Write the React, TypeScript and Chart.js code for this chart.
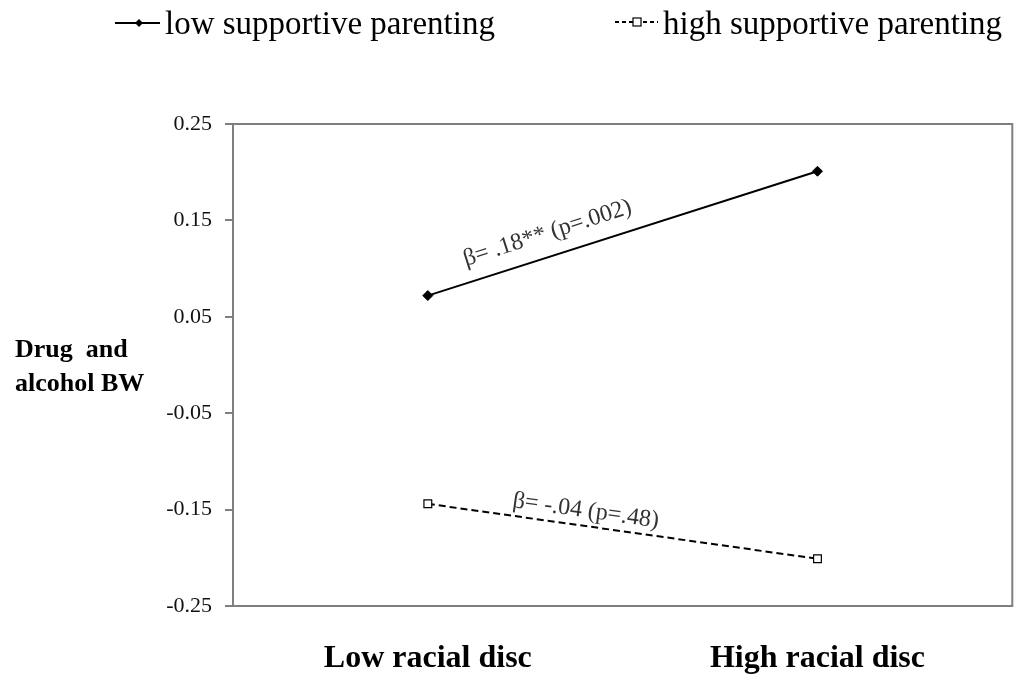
import React, { useEffect, useRef } from "react";
import { Chart, registerables } from "chart.js";

Chart.register(...registerables);

const categories = ["Low racial disc", "High racial disc"];
const lowSupportive = [0.072, 0.201];
const highSupportive = [-0.144, -0.201];
const yTicks = [-0.25, -0.15, -0.05, 0.05, 0.15, 0.25];
const legendLabels = ["low supportive parenting", "high supportive parenting"];
const yTitleLines = ["Drug  and", "alcohol BW"];
const annotations = ["\u03b2= .18** (p=.002)", "\u03b2= -.04 (p=.48)"];

const SERIF = "'Liberation Serif', 'Times New Roman', serif";
const AXIS_GRAY = "#7f7f7f";

const overlayPlugin = {
  id: "overlay",
  afterDraw(chart: any) {
    const ctx = chart.ctx;
    const a = chart.chartArea;
    ctx.save();
    // plot box
    ctx.strokeStyle = AXIS_GRAY;
    ctx.lineWidth = 2;
    ctx.strokeRect(a.left, a.top, a.right - a.left, a.bottom - a.top);

    // legend
    ctx.fillStyle = "#000";
    ctx.strokeStyle = "#000";
    ctx.font = `33px ${SERIF}`;
    ctx.textBaseline = "alphabetic";
    // item 1
    ctx.lineWidth = 2;
    ctx.setLineDash([]);
    ctx.beginPath();
    ctx.moveTo(115, 23);
    ctx.lineTo(160, 23);
    ctx.stroke();
    ctx.beginPath();
    ctx.moveTo(139, 19);
    ctx.lineTo(143, 23);
    ctx.lineTo(139, 27);
    ctx.lineTo(135, 23);
    ctx.closePath();
    ctx.fill();
    ctx.fillText(legendLabels[0], 165, 34);
    // item 2
    ctx.setLineDash([4, 3]);
    ctx.beginPath();
    ctx.moveTo(615, 22);
    ctx.lineTo(658, 22);
    ctx.stroke();
    ctx.setLineDash([]);
    ctx.fillStyle = "#fff";
    ctx.fillRect(633, 18, 8, 8);
    ctx.lineWidth = 1.2;
    ctx.strokeRect(633, 18, 8, 8);
    ctx.fillStyle = "#000";
    ctx.fillText(legendLabels[1], 663, 34);

    // y title
    ctx.font = `bold 26px ${SERIF}`;
    ctx.fillText(yTitleLines[0], 15, 357);
    ctx.fillText(yTitleLines[1], 15, 391);

    // annotations along lines
    const xs = chart.scales.x;
    const ys = chart.scales.y;
    const drawAnn = (text: string, vals: number[], t: number, off: number) => {
      const x0 = xs.getPixelForValue(0);
      const x1 = xs.getPixelForValue(1);
      const y0 = ys.getPixelForValue(vals[0]);
      const y1 = ys.getPixelForValue(vals[1]);
      const ang = Math.atan2(y1 - y0, x1 - x0);
      const cx = x0 + (x1 - x0) * t + Math.sin(ang) * off;
      const cy = y0 + (y1 - y0) * t - Math.cos(ang) * off;
      ctx.save();
      ctx.translate(cx, cy);
      ctx.rotate(ang);
      ctx.font = `24px ${SERIF}`;
      ctx.fillStyle = "#333";
      ctx.textAlign = "center";
      ctx.textBaseline = "middle";
      ctx.fillText(text, 0, 0);
      ctx.restore();
    };
    drawAnn(annotations[0], lowSupportive, 0.325, 23);
    drawAnn(annotations[1], highSupportive, 0.4, 15);
    ctx.restore();
  },
};

export default function App() {
  const ref = useRef<HTMLCanvasElement>(null);
  useEffect(() => {
    if (!ref.current) return;
    const chart = new Chart(ref.current, {
      type: "line",
      data: {
        labels: categories,
        datasets: [
          {
            label: legendLabels[0],
            data: lowSupportive,
            borderColor: "#000",
            backgroundColor: "#000",
            borderWidth: 2,
            pointStyle: "rectRot",
            pointRadius: 5,
            pointBorderWidth: 1,
            tension: 0,
          },
          {
            label: legendLabels[1],
            data: highSupportive,
            borderColor: "#000",
            backgroundColor: "#fff",
            borderWidth: 2,
            borderDash: [7, 4],
            pointStyle: "rect",
            pointRadius: 5.5,
            pointBorderWidth: 1.2,
            pointBackgroundColor: "#fff",
            pointBorderColor: "#000",
            tension: 0,
          },
        ],
      },
      options: {
        animation: false,
        responsive: false,
        layout: { padding: { left: 0, top: 124, right: 1, bottom: 0 } },
        plugins: {
          legend: { display: false },
          title: { display: false },
          tooltip: { enabled: false },
        },
        scales: {
          x: {
            type: "category",
            offset: true,
            grid: { display: false, drawTicks: false },
            border: { display: false },
            ticks: {
              color: "#000",
              font: { family: SERIF, size: 32, weight: "bold" },
              padding: 34,
              maxRotation: 0,
            },
            afterFit: (s: any) => {
              s.height = 71;
            },
          },
          y: {
            min: -0.25,
            max: 0.25,
            afterBuildTicks: (s: any) => {
              s.ticks = yTicks.map((v) => ({ value: v }));
            },
            grid: {
              drawOnChartArea: false,
              drawTicks: true,
              tickLength: 8,
              color: AXIS_GRAY,
              lineWidth: 2,
            },
            border: { display: true, color: AXIS_GRAY, width: 2 },
            ticks: {
              color: "#111",
              font: { family: SERIF, size: 22 },
              padding: 13,
              callback: (v: any) => Number(v).toFixed(2),
            },
            afterFit: (s: any) => {
              s.width = 233;
            },
          },
        },
      },
      plugins: [overlayPlugin],
    });
    return () => chart.destroy();
  }, []);
  return (
    <div style={{ position: "fixed", left: 0, top: 0, width: 1019, height: 677, background: "#fff" }}>
      <canvas ref={ref} width={1019} height={677} style={{ width: 1019, height: 677 }} />
    </div>
  );
}
